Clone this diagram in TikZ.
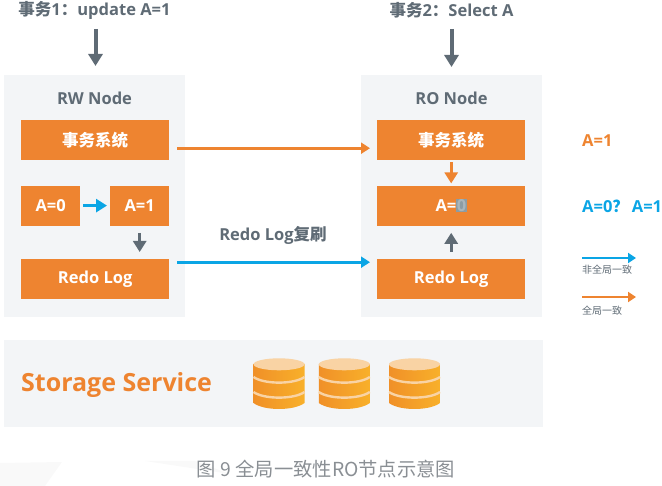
\documentclass[tikz,border=0pt]{standalone}
\usepackage{fontspec}
\setmainfont{Open Sans}
\newfontfamily\cjk{Noto Sans CJK SC}
\newcommand{\zh}[1]{{\cjk #1}}
\usepackage{xcolor}
\usetikzlibrary{arrows.meta,positioning}
\definecolor{boxorange}{HTML}{EE8430}
\definecolor{linkblue}{HTML}{0AA5E5}
\definecolor{slate}{HTML}{5F6B75}
\definecolor{panelgray}{HTML}{F3F5F7}
\definecolor{capgray}{HTML}{8A8F94}
\definecolor{discpale}{HTML}{F9D3A4}
\definecolor{discleft}{HTML}{F09028}
\definecolor{discright}{HTML}{F8B02A}
\definecolor{highlight}{HTML}{8C9CA3}

\begin{document}
\begin{tikzpicture}[
    x=1pt, y=-1pt,
    font=\bfseries\fontsize{16.5}{20}\selectfont,
    node distance=25pt,
    panel/.style={fill=panelgray, inner sep=0pt, minimum width=181pt, minimum height=242pt},
    box/.style={fill=boxorange, text=white, inner sep=0pt, minimum width=148pt, minimum height=40pt},
    halfbox/.style={box, minimum width=59pt},
    title/.style={text=slate},
    line/.style={-{Triangle[length=11pt,width=13pt]}, line width=3.3pt},
    longline/.style={-{Triangle[length=9pt,width=11pt]}, line width=3pt},
    keyline/.style={-{Triangle[length=8pt,width=10pt]}, line width=2.6pt},
    bigline/.style={-{Triangle[length=12pt,width=14pt]}, line width=4pt, slate},
    legend/.style={font=\cjk\fontsize{10}{12}\selectfont, text=slate, inner sep=0pt, anchor=west}
]
\useasboundingbox (0,0) rectangle (662,486);

% faint marks under the caption
\fill[gray!5] (0,463) -- (62,462) -- (45,486) -- (0,486) -- cycle;
\fill[gray!5] (145,461) -- (195,461) -- (230,474) -- cycle;

% node panels
\node[panel, anchor=north west] (rwpanel) at (4,75) {};
\node[panel, anchor=north west] (ropanel) at (361,75) {};
\node[fill=panelgray, inner sep=0pt, minimum width=539pt, minimum height=87pt, anchor=north west] (storage) at (4,340) {};

\node[title] (rwtitle) at (94.5,98) {RW Node};
\node[title] (rotitle) at (451.5,98) {RO Node};

% RW side
\node[box, anchor=north west] (rwtxn) at (21,120) {\zh{事务系统}};
\node[halfbox, below=25pt of rwtxn.south west, anchor=north west] (rwold) {A=0};
\node[halfbox, below=25pt of rwtxn.south east, anchor=north east] (rwnew) {A=1};
\node[box, anchor=north west] (rwredo) at (21,259) {Redo Log};

% RO side
\node[box, anchor=north west] (rotxn) at (377,120) {\zh{事务系统}};
\node[box, below=of rotxn] (rodata) {A=\setlength{\fboxsep}{0.5pt}\colorbox{highlight}{\textcolor{white!25!highlight}{0}}};
\node[box, anchor=north west] (roredo) at (377,259) {Redo Log};

% transactions on top
\node[title] (txa) at (94.5,10) {\zh{事务}1\zh{：}update A=1};
\node[title] (txb) at (451.5,10) {\zh{事务}2\zh{：}Select A};
\coordinate (txastart) at (95.5,29);
\coordinate (txaend) at (95.5,66);
\coordinate (txbstart) at (451.5,29);
\coordinate (txbend) at (451.5,67);
\draw[bigline] (txastart) -- (txaend);
\draw[bigline] (txbstart) -- (txbend);

% links inside and across the nodes
\draw[line, linkblue] ([shift={(3,0)}]rwold.east) -- ([shift={(-3,0)}]rwnew.west);
\draw[line, slate] ([shift={(0,7)}]rwnew.south) -- ([shift={(0,-7)}]rwredo.north -| rwnew.south);
\draw[line, boxorange] ([shift={(0,2)}]rotxn.south) -- ([shift={(0,-2)}]rodata.north);
\draw[line, slate] ([shift={(0,-7)}]roredo.north) -- ([shift={(0,7)}]rodata.south);
\draw[longline, boxorange] ([shift={(8,8)}]rwtxn.east) -- ([shift={(-7,8)}]rotxn.west);
\draw[longline, linkblue] ([shift={(8,-17)}]rwredo.east) -- ([shift={(-7,-17)}]roredo.west);
\node[title] (redolabel) at (273,235) {Redo Log\zh{复刷}};

% values read on the RO side
\node[text=boxorange, anchor=west, inner sep=0pt] (valone) at (582,141) {A=1};
\node[text=linkblue, anchor=west, inner sep=0pt] (valtwo) at (582,206) {A=0\zh{？}\hspace{3pt}A=1};

% legend
\coordinate (blueleft) at (582,258);
\coordinate (blueright) at (636,258);
\coordinate (orangeleft) at (582,297);
\coordinate (orangeright) at (636,297);
\draw[keyline, linkblue] (blueleft) -- (blueright);
\draw[keyline, boxorange] (orangeleft) -- (orangeright);
\node[legend] (nonglobal) at (582,270) {非全局一致};
\node[legend] (global) at (582,311) {全局一致};

% storage layer
\node[text=boxorange, anchor=west, inner sep=0pt, font=\bfseries\fontsize{25}{30}\selectfont] (storagelabel) at (21,385) {Storage Service};
\foreach \x in {279,344.3,414.5} {
  \shade[left color=discleft, right color=discright]
    (\x-25.5,364) -- (\x-25.5,403) .. controls (\x-15,411) and (\x+15,411) .. (\x+25.5,403) -- (\x+25.5,364) -- cycle;
  \draw[discpale, line width=2.4pt] (\x-25.5,377) .. controls (\x-15,384.5) and (\x+15,384.5) .. (\x+25.5,377);
  \draw[discpale, line width=2.4pt] (\x-25.5,392) .. controls (\x-15,399.5) and (\x+15,399.5) .. (\x+25.5,392);
  \fill[discpale] (\x,364.3) ellipse [x radius=25.5, y radius=6];
}

% caption
\node[text=capgray, font=\cjk\fontsize{19.3}{22}\selectfont] (caption) at (326,469) {图 9 全局一致性RO节点示意图};
\end{tikzpicture}
\end{document}
